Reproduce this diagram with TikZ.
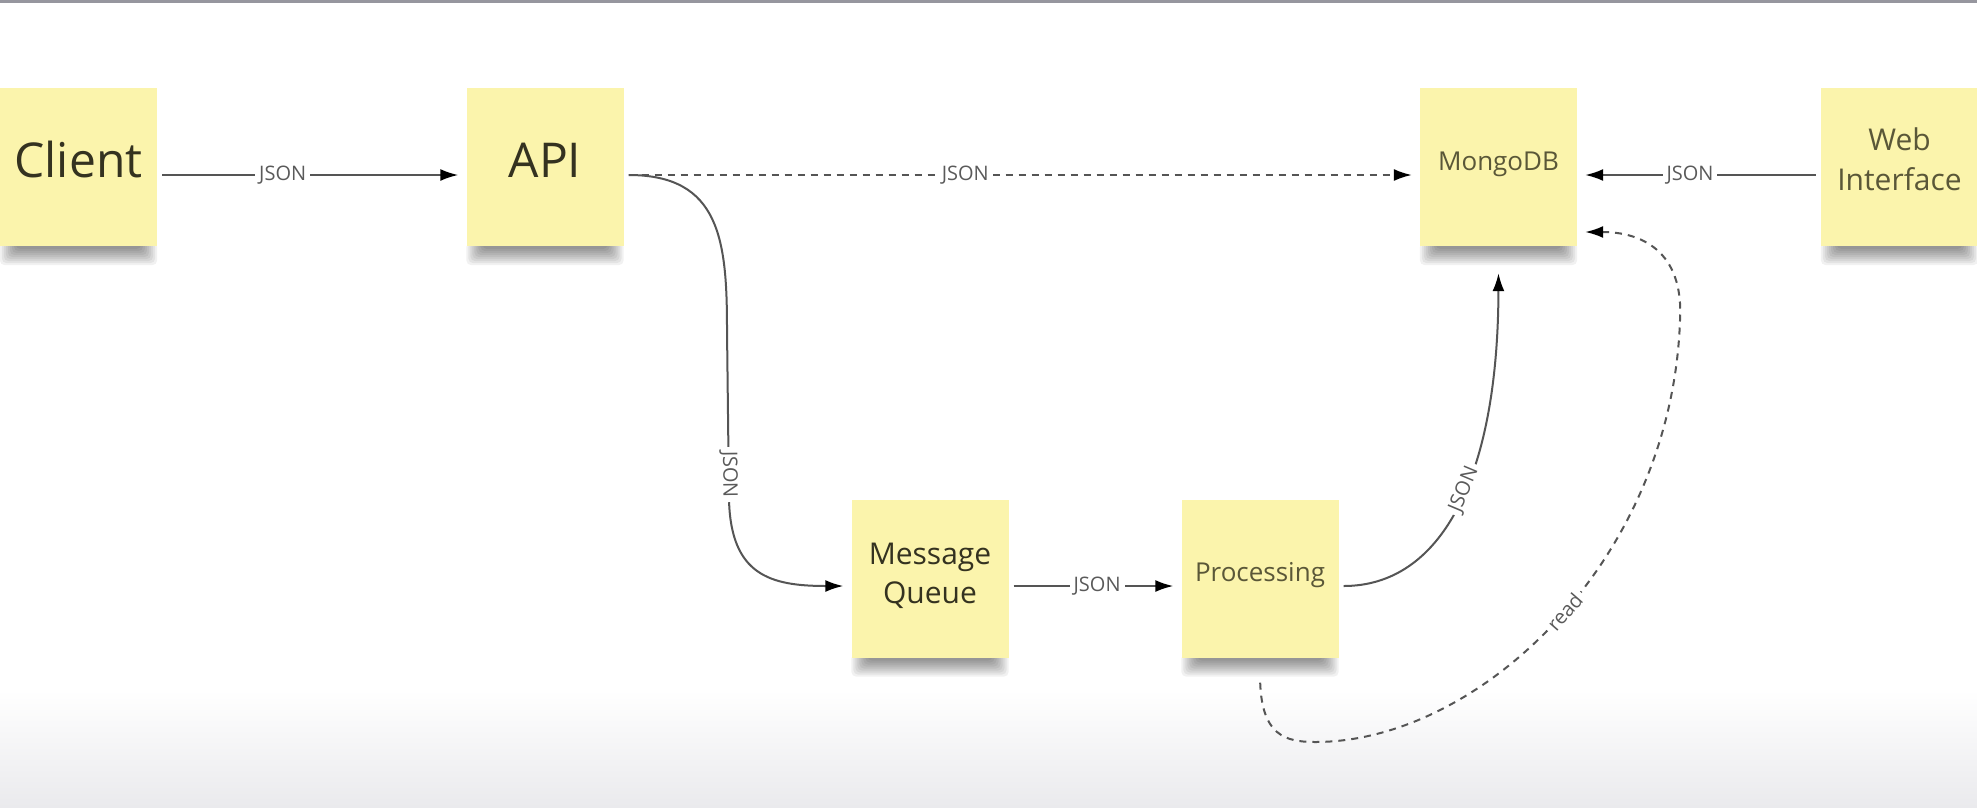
\documentclass[tikz,border=0pt]{standalone}
\usepackage{fontspec}
\setmainfont{Open Sans}
\usetikzlibrary{arrows.meta,calc}
\definecolor{sticky}{RGB}{251,244,172}
\definecolor{inkdark}{RGB}{52,50,32}
\definecolor{inklight}{RGB}{90,87,56}
\definecolor{wirec}{RGB}{85,85,85}
\definecolor{lblc}{RGB}{90,90,90}
\definecolor{floorc}{RGB}{234,234,237}
\definecolor{topline}{RGB}{150,150,158}
\pgfdeclarelayer{back}
\pgfdeclarelayer{shade}
\pgfsetlayers{back,shade,main}
\begin{document}
\begin{tikzpicture}[x=1pt,y=-1pt,
  note/.style={fill=sticky, minimum width=157pt, minimum height=158pt, inner sep=0pt},
  bigtxt/.style={text=inkdark, font=\fontsize{48}{50}\selectfont},
  midtxt/.style={text=inkdark, align=center, font=\fontsize{30}{39}\selectfont},
  midtxtl/.style={text=inklight, align=center, font=\fontsize{30}{40}\selectfont},
  smalltxt/.style={text=inklight, font=\fontsize{26}{30}\selectfont},
  wire/.style={draw=wirec, line width=2pt, -{Latex[length=18pt,width=12pt,color=black]}, shorten <=5pt, shorten >=8pt},
  dashwire/.style={wire, dash pattern=on 7pt off 6pt},
  lab/.style={fill=white, inner sep=4pt, text=lblc, font=\fontsize{20}{20}\selectfont},
]
\useasboundingbox (0,0) rectangle (1977,807);

% sticky notes
\node[note, label={[bigtxt, yshift=8pt]center:Client}] (client) at (78.5,167) {};
\node[note, label={[bigtxt, yshift=7pt]center:API}] (api) at (545,167) {};
\node[note, label={[smalltxt, yshift=3pt]center:MongoDB}] (mongo) at (1498.5,167) {};
\node[note, label={[midtxtl, yshift=8pt]center:Web\\Interface}] (web) at (1899.5,167) {};
\node[note, label={[midtxt, yshift=3pt]center:Message\\Queue}] (mq) at (930,578.5) {};
\node[note, label={[smalltxt, yshift=3pt]center:Processing}] (proc) at (1260,578.5) {};

% background, floor gradient and top rule
\begin{pgfonlayer}{back}
  \fill[white] (0,0) rectangle (1977,807);
  \shade[top color=white, bottom color=floorc] (0,690) rectangle (1977,807);
  \fill[topline] (0,0) rectangle (1977,2.5);
\end{pgfonlayer}

% shadows under the notes
\begin{pgfonlayer}{shade}
  \foreach \n in {client,api,mongo,web,mq,proc}{
    \foreach \i in {1,...,9}{
      \fill[black, opacity=0.055, rounded corners=5pt]
        ($(\n.south west)+(18-2*\i,-4)$) rectangle ($(\n.south east)+(-18+2*\i,1+2*\i)$);
    }
  }
\end{pgfonlayer}

% connectors
\draw[wire] ([yshift=-8pt]client.east) -- node[lab, pos=.406]{JSON} ([yshift=-8pt]api.west);
\draw[dashwire] ([yshift=-8pt]api.east) -- node[lab, pos=.429]{JSON} ([yshift=-8pt]mongo.west);
\draw[wire] ([yshift=-8pt]web.west) -- node[lab, pos=.537]{JSON} ([yshift=-8pt]mongo.east);
\draw[wire] ([yshift=-7.5pt]mq.east) -- node[lab, pos=.512]{JSON} ([yshift=-7.5pt]proc.west);

\draw[wire] ([yshift=-8pt]api.east) .. controls (720,175) and (727,240) .. (727,330)
   -- node[lab, sloped, pos=.85]{JSON} (729,500)
   .. controls (731,575) and (770,586) .. ([yshift=-7.5pt]mq.west);

\draw[wire] ([yshift=-7.5pt]proc.east) .. controls (1440,586) and (1498,480) ..
   node[lab, sloped, pos=.55]{JSON} ([yshift=-19pt]mongo.south);

\draw[dashwire] ([yshift=-20pt]proc.south) .. controls (1262,735) and (1285,742) .. (1315,742)
   .. controls (1480,742) and (1672,560) .. node[lab, sloped, pos=.52]{read} (1680,320)
   .. controls (1684,250) and (1640,232) .. ([yshift=-65pt]mongo.east);
\end{tikzpicture}
\end{document}
